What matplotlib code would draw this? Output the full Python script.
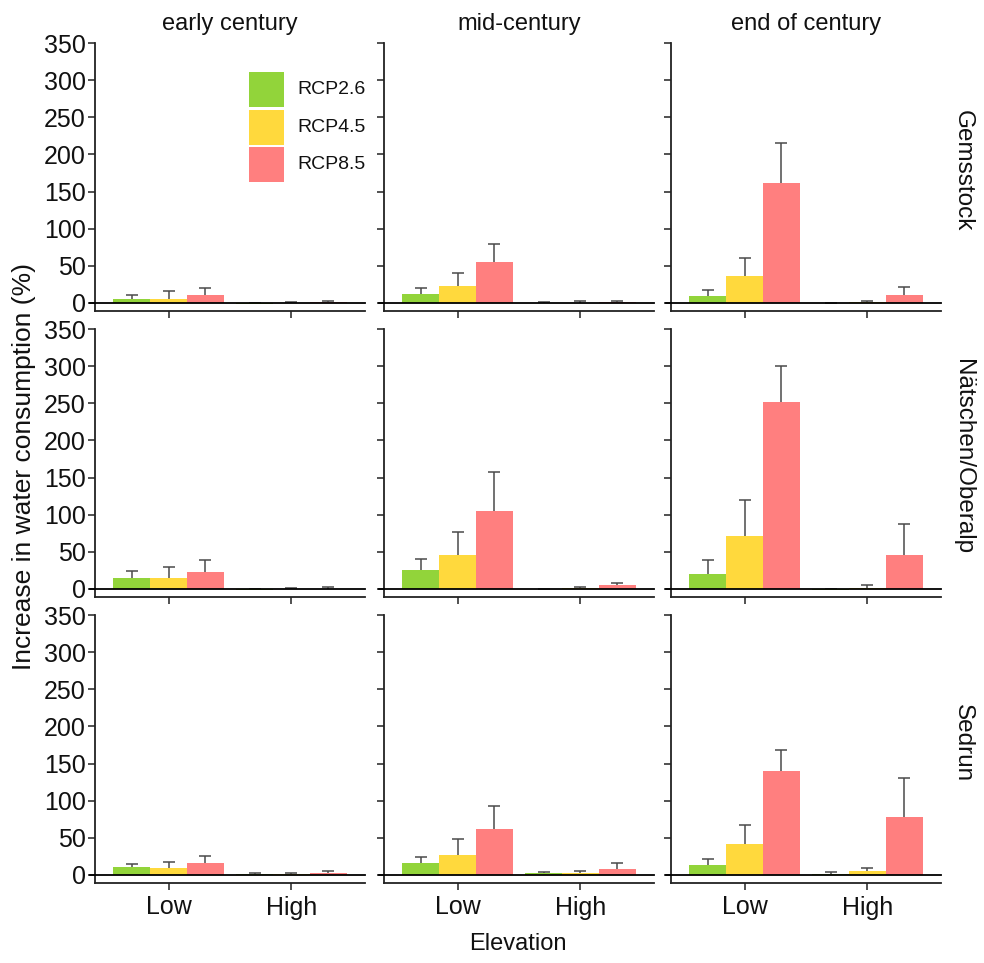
import numpy as np
import matplotlib
matplotlib.use("Agg")
import matplotlib.pyplot as plt
from matplotlib.patches import Rectangle

plt.rcParams['font.family'] = ['Liberation Sans', 'DejaVu Sans']

# Layout of the facets
periods = ["early century", "mid-century", "end of century"]
sites = ["Gemsstock", "Nätschen/Oberalp", "Sedrun"]
scenarios = ["RCP2.6", "RCP4.5", "RCP8.5"]
elevations = ["Low", "High"]
colors = ["#92d43a", "#ffd93d", "#ff7f7f"]

# Mean increase (%) per period -> scenario -> [Low, High]
gemsstock_mean = [
    [[6, -1], [6, 0.5], [11.4, 1]],
    [[12, 0.3], [23, 0.5], [55, 1.5]],
    [[9, -0.5], [36, 1], [162, 11]],
]
gemsstock_err = [
    [[4.5, 1], [10, 1], [8.6, 1]],
    [[8, 0.5], [17, 1.5], [25, 1.5]],
    [[9, 0.5], [24, 2], [53, 11]],
]

oberalp_mean = [
    [[15, -1.5], [15, 0.5], [23.5, 0.5]],
    [[26, 0], [46, 1], [105, 5]],
    [[20, -1], [71, 1.5], [252, 46]],
]
oberalp_err = [
    [[9, 1.5], [14, 1], [15.5, 1.5]],
    [[14.5, 0.5], [31, 1.5], [52, 2.6]],
    [[19, 1], [49, 4], [48, 41]],
]

sedrun_mean = [
    [[10.3, 1.8], [9.5, 1.5], [16.2, 2.7]],
    [[15.7, 2], [27, 3], [62, 8.5]],
    [[13.5, 1.8], [41.4, 5.4], [140, 78]],
]
sedrun_err = [
    [[4.7, 1.5], [8, 1.5], [10, 2]],
    [[8.6, 1.5], [22, 2.5], [31, 7]],
    [[7.5, 2.7], [26, 4], [28, 52]],
]

site_means = [gemsstock_mean, oberalp_mean, sedrun_mean]
site_errs = [gemsstock_err, oberalp_err, sedrun_err]

W, H = 984, 963
fig = plt.figure(figsize=(W / 100, H / 100), dpi=100)

left_px = [95, 384, 671]
top_px = [43, 329, 615]
panel_w, panel_h = 270, 268

bar_w = 0.3
offsets = [-0.3, 0.0, 0.3]
x = np.arange(1, len(elevations) + 1)
err_color = '#4a4a4a'

for r, site in enumerate(sites):
    for c, period in enumerate(periods):
        ax = fig.add_axes([left_px[c] / W, 1 - (top_px[r] + panel_h) / H,
                           panel_w / W, panel_h / H])
        means = site_means[r][c]
        errs = site_errs[r][c]
        for k, scen in enumerate(scenarios):
            m = np.array(means[k], dtype=float)
            e = np.array(errs[k], dtype=float)
            xp = x + offsets[k]
            # upper error bar only: stem from bar top plus a cap
            ax.vlines(xp, m, m + e, color=err_color, lw=1.1, zorder=1)
            ax.plot(xp, m + e, linestyle='none', marker='_', ms=8.5,
                    mew=1.1, color=err_color, zorder=1)
            ax.bar(xp, m, width=bar_w, color=colors[k],
                   edgecolor='none', zorder=2, label=scen)
        ax.axhline(0, xmin=-5 / panel_w, xmax=1, color='black', lw=1.3,
                   clip_on=False, zorder=3)

        ax.set_xlim(0.4, 2.6)
        ax.set_ylim(-10.8, 350)
        ax.set_yticks(np.arange(0, 351, 50))
        ax.set_xticks(x)
        ax.spines['top'].set_visible(False)
        ax.spines['right'].set_visible(False)
        for s in ['left', 'bottom']:
            ax.spines[s].set_linewidth(1.3)
            ax.spines[s].set_color('#222222')
        ax.tick_params(axis='both', length=5, width=1.2, color='#333333',
                       labelsize=18, pad=1.5, labelcolor='#111111')
        if c == 0:
            ax.set_yticklabels([str(v) for v in range(0, 351, 50)])
        else:
            ax.set_yticklabels([])
        if r == 2:
            ax.set_xticklabels(elevations)
            ax.tick_params(axis='x', pad=4)
        else:
            ax.set_xticklabels([])

        if r == 0:
            fig.text((left_px[c] + panel_w / 2) / W, 1 - 24 / H, period,
                     ha='center', va='center', fontsize=17, color='#111111')
        if r == 0 and c == 0:
            # legend keys drawn as squares in axes coordinates
            key_tops = [72, 109.5, 147]
            for k, scen in enumerate(scenarios):
                y0 = (top_px[r] + panel_h - key_tops[k] - 35) / panel_h
                ax.add_patch(Rectangle(((249 - 95) / panel_w, y0),
                                       35 / panel_w, 35 / panel_h,
                                       transform=ax.transAxes,
                                       facecolor=colors[k], edgecolor='none',
                                       clip_on=False))
                ax.text((297 - 95) / panel_w, y0 + 17.5 / panel_h, scen,
                        transform=ax.transAxes, ha='left', va='center',
                        fontsize=14, color='#111111')
    fig.text(963 / W, 1 - (top_px[r] + panel_h / 2 - 6) / H, site,
             rotation=-90, ha='center', va='center', fontsize=17.5,
             color='#111111')

fig.text(24 / W, 1 - 467 / H, "Increase in water consumption (%)",
         rotation=90, ha='center', va='center', fontsize=19, color='#111111')
fig.text(518 / W, 1 - 944 / H, "Elevation", ha='center', va='center',
         fontsize=17, color='#111111')

fig.savefig("out.png", dpi=100)
